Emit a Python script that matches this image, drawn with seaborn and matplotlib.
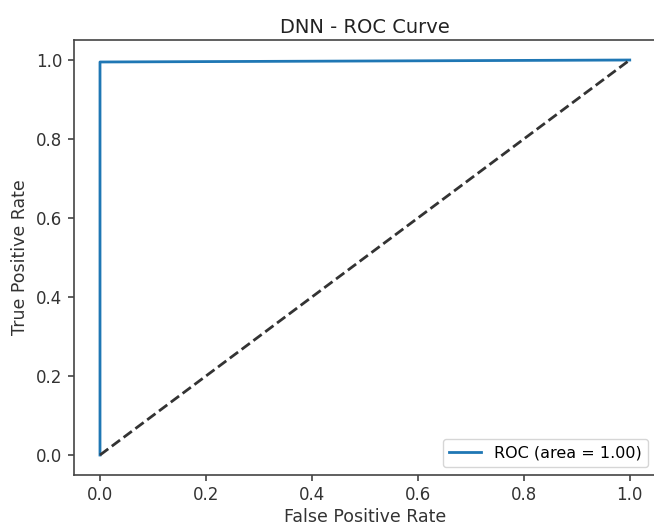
import matplotlib
matplotlib.use("Agg")
import matplotlib.pyplot as plt
import seaborn as sns
import pandas as pd

fpr = [0.0, 0.0, 1.0]
tpr = [0.0, 0.995, 1.0]
diag_x = [0.0, 1.0]
diag_y = [0.0, 1.0]
roc_label = "ROC (area = 1.00)"

plt.rcParams['font.family'] = ['DejaVu Sans']
fig = plt.figure(figsize=(6.54, 5.25), dpi=100)
ax = fig.add_axes([0.1124, 0.0957, 0.891, 0.8276])

df = pd.DataFrame({"fpr": fpr, "tpr": tpr})
sns.lineplot(data=df, x="fpr", y="tpr", estimator=None, sort=False,
             color="#1f77b4", linewidth=2, label=roc_label, ax=ax)
sns.lineplot(x=diag_x, y=diag_y, color="#333333", linestyle="--",
             linewidth=2, estimator=None, sort=False, ax=ax)

ax.set_xlim(-0.05, 1.05)
ax.set_ylim(-0.05, 1.05)
ax.set_xticks([0.0, 0.2, 0.4, 0.6, 0.8, 1.0])
ax.set_yticks([0.0, 0.2, 0.4, 0.6, 0.8, 1.0])
ax.tick_params(labelsize=12, length=4.5, width=1.1, colors="#333333")
for s in ax.spines.values():
    s.set_linewidth(1.2)
    s.set_color("#444444")
ax.set_xlabel("False Positive Rate", fontsize=12.5, labelpad=3, color="#333333")
ax.set_ylabel("True Positive Rate", fontsize=12.5, labelpad=5, color="#333333")
ax.set_title("DNN - ROC Curve", fontsize=14, pad=5, color="#222222")
ax.legend(loc="lower right", fontsize=11.5)

fig.savefig("out.png", dpi=100)
